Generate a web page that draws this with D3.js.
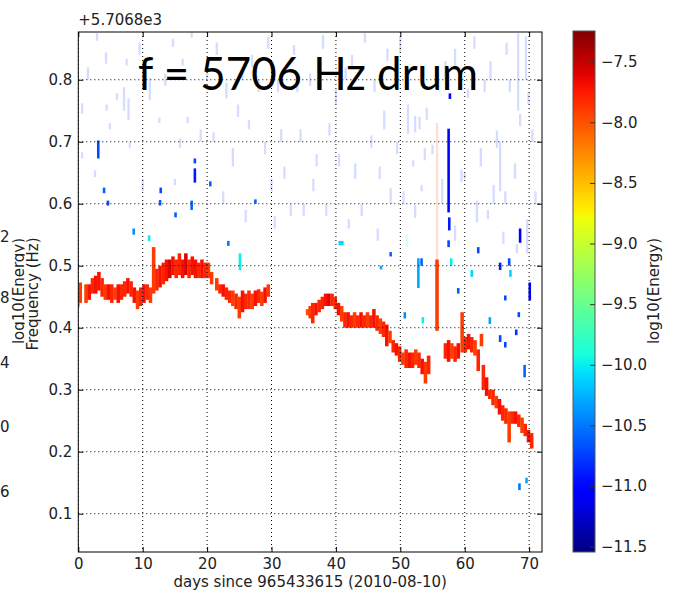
<!DOCTYPE html>
<html>
<head>
<meta charset="utf-8">
<script src="https://cdn.jsdelivr.net/npm/d3@7"></script>
<style>
  body { margin: 0; background: #fff; }
  svg { display: block; font-family: "DejaVu Sans", sans-serif; }
</style>
</head>
<body>
<svg id="chart" width="675" height="605"></svg>
<script>
// ---- data (days since start, frequency offset from 5706.8 Hz, log10 energy) ----
const xTicks = [0, 10, 20, 30, 40, 50, 60, 70];
const yTicks = [0.1, 0.2, 0.3, 0.4, 0.5, 0.6, 0.7, 0.8];
const cTicks = [-7.5, -8.0, -8.5, -9.0, -9.5, -10.0, -10.5, -11.0, -11.5];
const backTicks = ["2", "8", "4", "0", "6"]; // last digits of the hidden plot's labels

// main drum line
const traceDay = [0.0,0.3,1.2,1.7,2.2,2.7,3.2,3.7,4.2,4.7,5.2,5.7,6.2,6.7,7.2,7.7,8.2,8.7,9.2,9.7,10.2,10.7,11.2,11.7,
  12.2,12.7,13.2,13.7,14.2,14.7,15.2,15.7,16.2,16.7,17.2,17.7,18.2,18.7,19.2,19.7,20.2,20.7,21.5,22.0,22.5,23.0,23.5,
  24.0,24.5,25.0,25.5,26.0,26.5,27.0,27.5,28.0,28.5,29.0,29.5,
  35.6,36.0,36.4,36.9,37.4,37.9,38.4,38.9,39.4,39.9,40.4,40.9,41.4,41.9,42.4,42.9,43.4,43.9,44.4,44.9,45.4,45.9,46.4,
  46.9,47.4,47.9,48.4,48.9,49.4,49.9,50.4,50.9,51.4,51.9,52.4,52.9,53.4,53.9,54.4,55.7,57.0,57.5,58.0,58.5,59.0,59.6,
  60.1,60.6,61.1,61.6,62.1,62.6,62.9,63.4,63.9,64.4,64.9,65.4,65.9,66.4,66.9,67.4,67.9,68.4,68.9,69.4,69.9,70.4];
const traceLo = [0.433,0.44,0.44,0.445,0.455,0.455,0.46,0.45,0.445,0.445,0.44,0.445,0.44,0.445,0.45,0.455,0.45,0.44,0.43,0.435,0.44,0.445,0.44,0.455,
  0.46,0.465,0.47,0.475,0.48,0.485,0.48,0.485,0.48,0.485,0.48,0.485,0.48,0.48,0.48,0.48,0.48,0.47,0.46,0.455,0.45,0.445,0.44,
  0.435,0.43,0.415,0.425,0.43,0.43,0.43,0.435,0.44,0.435,0.44,0.45,
  0.42,0.415,0.407,0.42,0.425,0.43,0.435,0.435,0.435,0.43,0.42,0.41,0.40,0.40,0.40,0.40,0.40,0.40,0.40,0.40,0.40,0.40,0.395,
  0.39,0.385,0.37,0.375,0.36,0.355,0.345,0.34,0.335,0.335,0.335,0.34,0.335,0.325,0.31,0.325,0.395,0.35,0.345,0.35,0.345,0.35,0.36,
  0.36,0.365,0.36,0.355,0.33,0.37,0.30,0.29,0.285,0.275,0.27,0.26,0.25,0.245,0.215,0.245,0.245,0.24,0.23,0.225,0.215,0.205];
const traceHi = [0.455,0.473,0.47,0.47,0.48,0.484,0.49,0.48,0.47,0.47,0.47,0.465,0.47,0.47,0.475,0.48,0.475,0.465,0.46,0.465,0.47,0.47,0.465,0.53,
  0.495,0.50,0.505,0.51,0.51,0.515,0.51,0.52,0.51,0.52,0.51,0.515,0.51,0.505,0.51,0.505,0.505,0.49,0.48,0.47,0.47,0.465,0.46,
  0.46,0.455,0.45,0.46,0.455,0.46,0.455,0.46,0.462,0.458,0.465,0.47,
  0.43,0.435,0.44,0.44,0.445,0.45,0.455,0.455,0.455,0.45,0.44,0.435,0.425,0.425,0.42,0.425,0.42,0.425,0.42,0.425,0.42,0.43,0.42,
  0.415,0.41,0.405,0.395,0.38,0.375,0.37,0.36,0.365,0.36,0.36,0.365,0.36,0.35,0.345,0.355,0.51,0.375,0.38,0.375,0.37,0.375,0.425,
  0.385,0.39,0.385,0.38,0.365,0.39,0.34,0.32,0.30,0.30,0.29,0.285,0.275,0.27,0.265,0.265,0.265,0.26,0.255,0.245,0.235,0.23];
const traceE = [-8.4,-7.9,-7.9,-7.7,-7.8,-7.7,-7.7,-7.8,-7.9,-7.7,-7.8,-7.9,-7.7,-7.8,-7.8,-7.7,-7.8,-7.7,-7.9,-7.8,-7.7,-7.8,-7.9,-7.9,
  -7.8,-7.7,-7.8,-7.7,-7.6,-7.7,-7.8,-7.8,-7.7,-7.6,-7.8,-7.7,-7.7,-7.8,-7.7,-7.8,-7.9,-7.9,-7.9,-7.8,-7.7,-7.8,-7.8,
  -7.9,-7.8,-7.9,-7.7,-7.8,-7.8,-7.9,-7.7,-7.8,-7.9,-7.7,-7.9,
  -8.0,-7.9,-7.8,-7.7,-7.8,-7.8,-7.7,-7.6,-7.8,-7.8,-7.7,-7.9,-7.8,-7.7,-7.8,-7.9,-7.8,-7.7,-7.8,-7.9,-7.8,-7.7,-7.8,
  -7.9,-7.8,-7.7,-7.9,-7.8,-7.7,-7.8,-7.9,-7.8,-7.7,-7.8,-7.9,-7.8,-7.7,-7.9,-7.8,-7.9,-7.8,-7.7,-7.9,-7.8,-7.7,-7.9,
  -7.8,-7.7,-7.8,-7.9,-7.8,-7.9,-7.8,-7.7,-7.8,-7.8,-7.9,-7.7,-7.8,-7.8,-7.9,-7.8,-7.7,-7.8,-7.9,-7.8,-7.7,-7.8];

// weaker lines (blue / cyan)
const markDay = [3.1,4.0,4.6,8.6,11.0,12.7,12.8,15.1,17.6,18.1,18.1,20.5,23.3,25.1,27.5,40.6,41.0,47.0,48.5,50.7,52.8,53.3,53.5,
  57.5,57.6,57.5,57.9,57.7,59.0,61.1,62.1,63.9,65.5,65.5,66.3,66.3,66.9,67.1,68.4,68.6,68.0,69.3,70.1,68.5,69.6];
const markLo = [0.673,0.617,0.597,0.550,0.540,0.597,0.617,0.578,0.590,0.634,0.665,0.628,0.532,0.493,0.600,0.533,0.533,0.494,0.515,0.415,0.464,0.500,0.407,
  0.586,0.557,0.530,0.500,0.769,0.455,0.482,0.520,0.406,0.493,0.377,0.444,0.368,0.500,0.482,0.417,0.537,0.388,0.320,0.444,0.138,0.149];
const markHi = [0.702,0.626,0.605,0.560,0.549,0.606,0.626,0.586,0.605,0.657,0.673,0.636,0.540,0.520,0.607,0.540,0.540,0.500,0.522,0.425,0.512,0.512,0.417,
  0.721,0.578,0.541,0.512,0.778,0.464,0.493,0.530,0.417,0.505,0.388,0.452,0.377,0.512,0.493,0.425,0.560,0.397,0.340,0.473,0.149,0.158];
const markE = [-10.7,-10.6,-10.7,-10.4,-10.0,-10.6,-10.7,-10.6,-10.6,-10.9,-10.7,-10.6,-10.5,-10.0,-10.6,-10.1,-10.1,-10.3,-10.6,-10.4,-10.3,-10.6,-10.0,
  -11.0,-10.9,-10.7,-10.0,-11.0,-10.6,-10.1,-10.7,-10.3,-10.9,-10.7,-10.7,-10.7,-10.7,-10.1,-10.7,-11.1,-10.8,-10.6,-11.0,-10.5,-10.3];

// very faint background lines
const faintDay = [2.9,4.3,6.0,7.5,7.1,7.8,4.4,0.6,0.6,2.6,11.1,12.6,14.7,16.2,17.0,15.8,17.6,4.9,15.0,8.0,
  21.5,23.0,25.5,27.0,29.5,31.0,33.5,36.0,38.0,40.0,42.5,44.5,46.0,48.0,50.0,21.0,24.0,26.5,29.0,32.0,34.5,37.0,39.0,43.0,45.5,48.5,
  30.5,35.0,42.0,46.5,51.2,52.3,53.0,54.1,53.8,55.0,52.0,59.5,60.0,53.3,52.3,51.0,58.5,61.9,63.6,65.0,65.5,66.3,67.8,68.6,69.9,
  63.1,60.5,66.0,68.1,69.7,68.3,69.5,58.5,61.5,64.0,66.5,55.7,
  20.0,22.5,24.8,26.0,28.0,30.0,31.5,33.0,34.0,36.5,38.5,40.5,41.5,44.0,46.8,47.5,49.5,50.5,56.5,57.0,62.5,64.5,67.0,70.5,71.0,
  1.5,9.5,13.5,19.0,10.0];
const faintLo = [0.863,0.826,0.767,0.823,0.750,0.735,0.750,0.745,0.673,0.643,0.767,0.730,0.853,0.823,0.730,0.690,0.868,0.720,0.630,0.690,
  0.840,0.770,0.800,0.820,0.850,0.780,0.840,0.790,0.850,0.760,0.820,0.860,0.780,0.830,0.845,0.700,0.660,0.720,0.680,0.640,0.700,0.660,0.710,0.640,0.690,0.600,
  0.560,0.580,0.560,0.540,0.713,0.715,0.720,0.735,0.670,0.680,0.660,0.635,0.640,0.620,0.577,0.530,0.540,0.570,0.575,0.690,0.620,0.600,0.640,0.725,0.760,
  0.780,0.770,0.535,0.520,0.520,0.750,0.800,0.820,0.850,0.800,0.840,0.510,
  0.800,0.600,0.740,0.570,0.780,0.620,0.700,0.580,0.780,0.620,0.580,0.660,0.800,0.580,0.640,0.720,0.680,0.600,0.600,0.800,0.660,0.600,0.780,0.700,0.600,
  0.800,0.840,0.790,0.700,0.620];
const faintHi = [0.875,0.844,0.778,0.834,0.788,0.770,0.760,0.762,0.683,0.654,0.803,0.739,0.866,0.834,0.740,0.705,0.876,0.730,0.640,0.700,
  0.860,0.795,0.812,0.840,0.870,0.800,0.856,0.810,0.872,0.785,0.840,0.875,0.800,0.850,0.870,0.715,0.690,0.735,0.700,0.660,0.720,0.680,0.730,0.665,0.710,0.625,
  0.580,0.600,0.575,0.560,0.760,0.742,0.740,0.755,0.690,0.695,0.670,0.655,0.650,0.630,0.598,0.550,0.565,0.605,0.590,0.718,0.700,0.620,0.665,0.745,0.780,
  0.800,0.785,0.555,0.535,0.575,0.875,0.870,0.850,0.870,0.830,0.860,0.730,
  0.820,0.620,0.760,0.590,0.800,0.640,0.720,0.600,0.800,0.640,0.600,0.680,0.820,0.600,0.660,0.750,0.700,0.620,0.640,0.830,0.690,0.630,0.800,0.720,0.620,
  0.820,0.860,0.810,0.720,0.640];
const faintE = faintDay.map((d, i) => i === 61 ? -10.0 : i === 82 ? -7.9 : -10.8);

// ---- layout ----
const plot = { left: 78.3, right: 542, top: 32, bottom: 552 };
const cbar = { left: 573, right: 595, top: 31, bottom: 552 };
const vmin = -11.544, vmax = -7.247;

const svg = d3.select('#chart');
svg.append('rect').attr('width', 675).attr('height', 605).attr('fill', '#fff');

const x = d3.scaleLinear().domain([0, 72]).range([plot.left, plot.right]);
const y = d3.scaleLinear().domain([0.0382, 0.877]).range([plot.bottom, plot.top]);
const c = d3.scaleLinear().domain([vmin, vmax]).range([cbar.bottom, cbar.top]);

// jet colormap
const jetR = d3.scaleLinear().domain([0, 0.35, 0.66, 0.89, 1]).range([0, 0, 1, 1, 0.5]).clamp(true);
const jetG = d3.scaleLinear().domain([0, 0.125, 0.375, 0.64, 0.91, 1]).range([0, 0, 1, 1, 0, 0]).clamp(true);
const jetB = d3.scaleLinear().domain([0, 0.11, 0.34, 0.65, 1]).range([0.5, 1, 1, 0, 0]).clamp(true);
const norm = d3.scaleLinear().domain([vmin, vmax]).range([0, 1]).clamp(true);
const jet = e => { const t = norm(e); return d3.rgb(jetR(t) * 255, jetG(t) * 255, jetB(t) * 255).formatHex(); };

// bits of the other figure peeking out on the left
svg.selectAll('.backtick').data(backTicks).enter().append('text')
  .attr('x', 9.5).attr('y', (d, i) => [237, 298, 363, 427, 492][i]).attr('dy', '0.35em')
  .attr('text-anchor', 'end').attr('font-size', 15).attr('fill', '#222').text(d => d);
svg.append('text').attr('transform', 'translate(24,291) rotate(-90)').attr('text-anchor', 'middle')
  .attr('font-size', 15).attr('fill', '#222').text('log10(Energy)');
svg.append('rect').attr('x', 24.6).attr('y', 0).attr('width', 660).attr('height', 605).attr('fill', '#fff');

// ---- plot area ----
svg.append('clipPath').attr('id', 'clip').append('rect')
  .attr('x', plot.left).attr('y', plot.top).attr('width', plot.right - plot.left).attr('height', plot.bottom - plot.top);
const g = svg.append('g').attr('clip-path', 'url(#clip)');

const faint = faintDay.map((d, i) => ({ day: d, lo: faintLo[i], hi: faintHi[i], e: faintE[i] }));
const marks = markDay.map((d, i) => ({ day: d, lo: markLo[i], hi: markHi[i], e: markE[i] }));
const trace = traceDay.map((d, i) => ({ day: d, lo: traceLo[i], hi: traceHi[i], e: traceE[i] }));

function stripes(data, w, op) {
  g.selectAll(null).data(data).enter().append('rect')
    .attr('x', d => x(d.day) - (x(w) - x(0)) / 2)
    .attr('width', x(w) - x(0))
    .attr('y', d => y(d.hi))
    .attr('height', d => y(d.lo) - y(d.hi))
    .attr('fill', d => jet(d.e))
    .attr('fill-opacity', op);
}
stripes(faint, 0.35, 0.17);
stripes(marks, 0.4, 1);
stripes(trace, 0.55, 1);

// dotted grid on top of the data
g.selectAll('.vgrid').data(xTicks).enter().append('line')
  .attr('x1', d => x(d)).attr('x2', d => x(d)).attr('y1', plot.top).attr('y2', plot.bottom)
  .attr('stroke', '#000').attr('stroke-dasharray', '1,3');
g.selectAll('.hgrid').data(yTicks).enter().append('line')
  .attr('y1', d => y(d)).attr('y2', d => y(d)).attr('x1', plot.left).attr('x2', plot.right)
  .attr('stroke', '#000').attr('stroke-dasharray', '1,3');

// axes, inward ticks
function styleAxis(sel) {
  sel.select('.domain').remove();
  sel.selectAll('text').attr('font-size', 15).attr('fill', '#222').attr('font-family', '"DejaVu Sans", sans-serif');
  sel.selectAll('line').attr('stroke', '#000');
}
svg.append('g').attr('transform', `translate(0,${plot.bottom})`)
  .call(d3.axisBottom(x).tickValues(xTicks).tickSize(-5).tickPadding(6).tickFormat(d3.format('d'))).call(styleAxis);
svg.append('g').attr('transform', `translate(0,${plot.top})`)
  .call(d3.axisTop(x).tickValues(xTicks).tickSize(-5).tickFormat('')).call(styleAxis);
svg.append('g').attr('transform', `translate(${plot.left},0)`)
  .call(d3.axisLeft(y).tickValues(yTicks).tickSize(-5).tickPadding(6).tickFormat(d3.format('.1f'))).call(styleAxis);
svg.append('g').attr('transform', `translate(${plot.right},0)`)
  .call(d3.axisRight(y).tickValues(yTicks).tickSize(-5).tickFormat('')).call(styleAxis);

svg.append('rect').attr('x', plot.left).attr('y', plot.top)
  .attr('width', plot.right - plot.left).attr('height', plot.bottom - plot.top)
  .attr('fill', 'none').attr('stroke', '#000');

svg.append('text').attr('x', plot.left).attr('y', 25).attr('font-size', 15).attr('fill', '#222').text('+5.7068e3');
svg.append('text').attr('x', (plot.left + plot.right) / 2).attr('y', 587).attr('text-anchor', 'middle')
  .attr('font-size', 15).attr('fill', '#222').text('days since 965433615 (2010-08-10)');
svg.append('text').attr('transform', `translate(38,${(plot.top + plot.bottom) / 2 + 2}) rotate(-90)`)
  .attr('text-anchor', 'middle').attr('font-size', 15).attr('fill', '#222').text('Frequency (Hz)');

// ---- colorbar ----
const grad = svg.append('defs').append('linearGradient').attr('id', 'jetgrad')
  .attr('x1', 0).attr('y1', 1).attr('x2', 0).attr('y2', 0);
grad.selectAll('stop').data(d3.range(0, 1.0001, 0.02)).enter().append('stop')
  .attr('offset', d => d).attr('stop-color', d => jet(vmin + d * (vmax - vmin)));
svg.append('rect').attr('x', cbar.left).attr('y', cbar.top)
  .attr('width', cbar.right - cbar.left).attr('height', cbar.bottom - cbar.top)
  .attr('fill', 'url(#jetgrad)').attr('stroke', '#555');
const cax = svg.append('g').attr('transform', `translate(${cbar.right},0)`)
  .call(d3.axisRight(c).tickValues(cTicks).tickSize(-5).tickPadding(6).tickFormat(d3.format('.1f'))).call(styleAxis);
cax.selectAll('line').attr('stroke', '#333');
svg.append('text').attr('transform', `translate(659,291) rotate(-90)`).attr('text-anchor', 'middle')
  .attr('font-size', 15).attr('fill', '#222').text('log10(Energy)');

// slide title written over the plot
svg.append('text').attr('x', 138).attr('y', 90)
  .attr('font-family', 'Lato, "Open Sans", sans-serif').attr('font-size', 46).attr('fill', '#000')
  .attr('textLength', 340).attr('lengthAdjust', 'spacingAndGlyphs')
  .text('f = 5706 Hz drum');
</script>
</body>
</html>
